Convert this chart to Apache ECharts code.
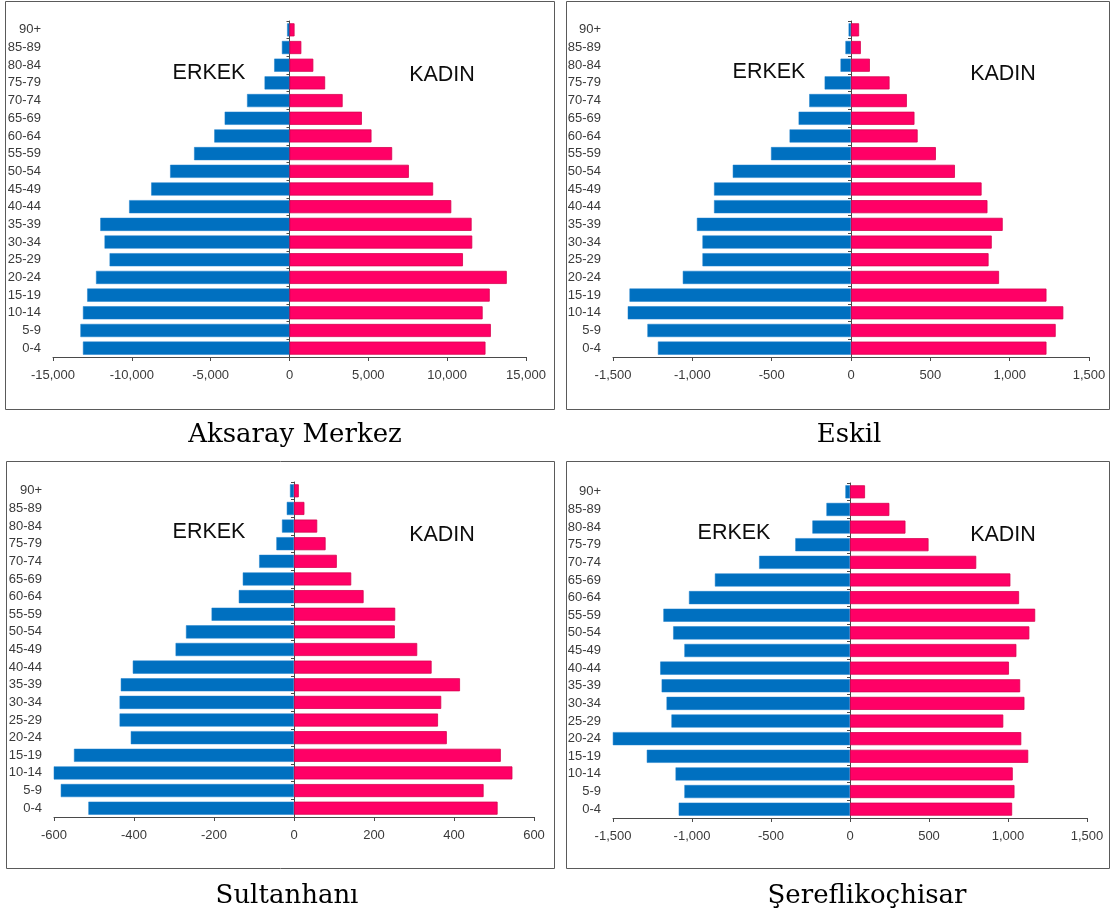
<!DOCTYPE html>
<html>
<head>
<meta charset="utf-8">
<script src="https://cdn.jsdelivr.net/npm/echarts@6/dist/echarts.min.js"></script>
<style>
html,body{margin:0;padding:0;background:#fff;}
#chart{width:1110px;height:916px;}
</style>
</head>
<body>
<div id="chart"></div>
<script>
// Age groups (bottom to top)
const ageGroups = ['0-4','5-9','10-14','15-19','20-24','25-29','30-34','35-39','40-44','45-49','50-54','55-59','60-64','65-69','70-74','75-79','80-84','85-89','90+'];

// Aksaray Merkez
const aksarayMale   = [-13100,-13260,-13100,-12830,-12270,-11410,-11730,-12000,-10170,-8770,-7570,-6050,-4770,-4110,-2690,-1580,-970,-480,-150];
const aksarayFemale = [12430,12770,12250,12700,13780,11000,11590,11550,10260,9110,7570,6510,5200,4590,3370,2260,1510,750,320];

// Eskil
const eskilMale   = [-1217,-1283,-1407,-1396,-1060,-936,-936,-971,-863,-863,-745,-504,-387,-330,-263,-166,-66,-35,-15];
const eskilFemale = [1232,1290,1338,1232,933,867,887,956,860,823,655,535,420,400,352,243,119,62,51];

// Sultanhanı
const sultanhaniMale   = [-514,-583,-601,-550,-408,-436,-436,-433,-403,-296,-270,-206,-138,-128,-87,-44,-30,-18,-10];
const sultanhaniFemale = [509,474,546,517,382,360,368,415,344,308,252,253,174,143,107,79,58,26,12];

// Şereflikoçhisar
const serefliMale   = [-1084,-1048,-1104,-1286,-1501,-1130,-1161,-1192,-1201,-1048,-1119,-1181,-1019,-855,-575,-346,-238,-149,-29];
const serefliFemale = [1026,1041,1030,1128,1084,970,1104,1077,1006,1053,1135,1172,1070,1015,799,497,351,249,95];

// Axis ranges (min, max, interval)
const aksarayAxis    = [-15000, 15000, 5000];
const eskilAxis      = [-1500, 1500, 500];
const sultanhaniAxis = [-600, 600, 200];
const serefliAxis    = [-1500, 1500, 500];

const titles = ['Aksaray Merkez', 'Eskil', 'Sultanhanı', 'Şereflikoçhisar'];
const maleLabel = 'ERKEK';
const femaleLabel = 'KADIN';

const panels = [
  {male: aksarayMale, female: aksarayFemale, axis: aksarayAxis, grid: {left: 53, top: 21, width: 473, height: 336}},
  {male: eskilMale, female: eskilFemale, axis: eskilAxis, grid: {left: 613, top: 21, width: 476, height: 336}},
  {male: sultanhaniMale, female: sultanhaniFemale, axis: sultanhaniAxis, grid: {left: 54, top: 482, width: 480, height: 335}},
  {male: serefliMale, female: serefliFemale, axis: serefliAxis, grid: {left: 613, top: 483, width: 474, height: 335}}
];

const fmt = v => Number(v).toLocaleString('en-US');
const axisColor = '#4a4a4a';
const labelColor = '#3a3a3a';
const labelFont = 'Liberation Sans';

const grids = [], xAxes = [], yAxes = [], series = [];
panels.forEach((p, i) => {
  grids.push(Object.assign({containLabel: false}, p.grid));
  xAxes.push({
    type: 'value', gridIndex: i, min: p.axis[0], max: p.axis[1], interval: p.axis[2],
    splitLine: {show: false},
    axisLine: {show: true, onZero: false, lineStyle: {color: axisColor, width: 1}},
    axisTick: {show: true, length: 4, lineStyle: {color: axisColor}},
    axisLabel: {formatter: fmt, color: labelColor, fontSize: 13, fontFamily: labelFont, margin: 12}
  });
  // axis line at zero with ticks
  yAxes.push({
    type: 'category', gridIndex: i, data: ageGroups, position: 'left',
    axisLine: {show: true, onZero: true, lineStyle: {color: axisColor, width: 1}},
    axisTick: {show: true, length: 3, lineStyle: {color: axisColor}},
    axisLabel: {show: false}, splitLine: {show: false}
  });
  // labels on the left
  yAxes.push({
    type: 'category', gridIndex: i, data: ageGroups, position: 'left',
    axisLine: {show: false, onZero: false},
    axisTick: {show: false},
    axisLabel: {show: true, color: labelColor, fontSize: 13, fontFamily: labelFont, margin: 12},
    splitLine: {show: false}
  });
  series.push({
    type: 'bar', name: maleLabel, xAxisIndex: i, yAxisIndex: 2 * i, data: p.male,
    barCategoryGap: '26%', barGap: '-100%',
    itemStyle: {color: '#0070C0', borderColor: '#1a7fcc', borderWidth: 0.5},
    z: 1
  });
  series.push({
    type: 'bar', name: femaleLabel, xAxisIndex: i, yAxisIndex: 2 * i, data: p.female,
    barCategoryGap: '26%', barGap: '-100%',
    itemStyle: {color: '#FF0066', borderColor: '#D8004E', borderWidth: 0.8},
    z: 1
  });
});

const frameStyle = {fill: 'none', stroke: '#5a5a5a', lineWidth: 1};
const frames = [
  {x: 5.5, y: 1.5, width: 549, height: 408},
  {x: 566.5, y: 1.5, width: 543, height: 408},
  {x: 6.5, y: 461.5, width: 548, height: 407},
  {x: 566.5, y: 461.5, width: 543, height: 407}
].map(s => ({type: 'rect', shape: s, style: frameStyle, silent: true}));

const titlePos = [[295, 435], [849, 435], [287, 896], [867, 896]];
const titleTexts = titles.map((t, i) => ({
  type: 'text', x: titlePos[i][0], y: titlePos[i][1],
  style: {text: t, font: '26px "DejaVu Serif"', fill: '#000', align: 'center', verticalAlign: 'middle'}
}));

const sexPos = [
  [[209, 73], [442, 75]],
  [[769, 72], [1003, 74]],
  [[209, 532], [442, 535]],
  [[734, 533], [1003, 535]]
];
const sexTexts = [];
sexPos.forEach(pp => {
  sexTexts.push({type: 'text', x: pp[0][0], y: pp[0][1],
    style: {text: maleLabel, font: '21.5px "Liberation Sans"', fill: '#0d0d0d', align: 'center', verticalAlign: 'middle'}});
  sexTexts.push({type: 'text', x: pp[1][0], y: pp[1][1],
    style: {text: femaleLabel, font: '21.5px "Liberation Sans"', fill: '#0d0d0d', align: 'center', verticalAlign: 'middle'}});
});

const chart = echarts.init(document.getElementById('chart'), null, {renderer: 'canvas'});
chart.setOption({
  animation: false,
  backgroundColor: '#fff',
  grid: grids,
  xAxis: xAxes,
  yAxis: yAxes,
  series: series,
  graphic: frames.concat(titleTexts, sexTexts)
});
</script>
</body>
</html>
